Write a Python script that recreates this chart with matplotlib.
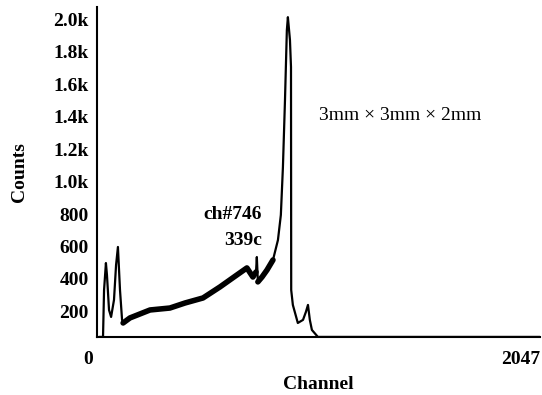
import matplotlib
matplotlib.use("Agg")
import matplotlib.pyplot as plt
from matplotlib.transforms import ScaledTranslation

plt.rcParams['font.family'] = ['Liberation Serif', 'DejaVu Serif']

# spectrum (channel, counts)
channels = [14, 29, 34, 43, 48, 58, 68, 82, 92, 101, 111, 121, 126,
            159, 256, 352, 425, 512, 594, 676, 724, 753, 768, 772, 777,
            797, 821, 850, 874, 888, 898, 908, 917, 922, 932, 937, 938,
            946, 970, 995, 1009, 1019, 1028, 1038, 1067, 2139]
counts = [43, 43, 332, 498, 425, 209, 166, 271, 486, 597, 332, 148, 129,
          160, 209, 221, 252, 283, 351, 425, 468, 412, 443, 535, 382,
          412, 455, 517, 640, 794, 1089, 1502, 1932, 2012, 1871, 1705, 332,
          240, 129, 148, 197, 240, 148, 86, 43, 43]

yticks = [200, 400, 600, 800, 1000, 1200, 1400, 1600, 1800, 2000]
ytick_labels = ['200', '400', '600', '800', '1.0k', '1.2k', '1.4k',
                '1.6k', '1.8k', '2.0k']
xticks = [0, 2047]
xtick_labels = ['0', '2047']

fig = plt.figure(figsize=(5.42, 3.95), dpi=100)
ax = fig.add_axes([0.179, 0.147, 0.817, 0.835])

ax.plot(channels, counts, color='black', lw=1.6, solid_joinstyle='round')
# noisy Compton continuum drawn thicker
ax.plot(channels[12:23], counts[12:23], color='black', lw=4,
        solid_capstyle='round', solid_joinstyle='round')
ax.plot(channels[24:28], counts[24:28], color='black', lw=4,
        solid_capstyle='round', solid_joinstyle='round')

ax.set_xlim(0, 2139)
ax.set_ylim(43, 2074)
ax.spines['top'].set_visible(False)
ax.spines['right'].set_visible(False)
ax.spines['left'].set_linewidth(1.5)
ax.spines['bottom'].set_linewidth(1.5)

ax.set_yticks(yticks)
ax.set_yticklabels(ytick_labels, fontsize=14, fontweight='bold')
ax.set_xticks(xticks)
ax.set_xticklabels(xtick_labels, fontsize=14, fontweight='bold')
ax.tick_params(axis='y', length=0, pad=6)
ax.tick_params(axis='x', length=0, pad=10)
lbl0 = ax.get_xticklabels()[0]
lbl0.set_transform(lbl0.get_transform() + ScaledTranslation(-0.09, 0, fig.dpi_scale_trans))

ax.set_ylabel('Counts', fontsize=14, fontweight='bold', labelpad=18)
ax.set_xlabel('Channel', fontsize=14, fontweight='bold', labelpad=6)

ax.text(797, 794, 'ch#746', ha='right', va='center', fontsize=14, fontweight='bold')
ax.text(797, 634, '339c', ha='right', va='center', fontsize=14, fontweight='bold')
ax.text(1070, 1409, '3mm \u00d7 3mm \u00d7 2mm', ha='left', va='center', fontsize=14)

fig.savefig('out.png', dpi=100)
